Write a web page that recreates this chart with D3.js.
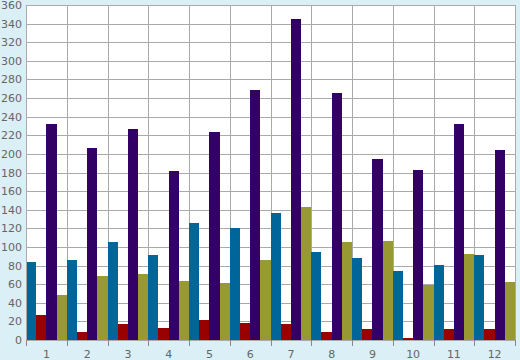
<!DOCTYPE html>
<html><head><meta charset="utf-8">
<script src="https://cdn.jsdelivr.net/npm/d3@7"></script>
<style>html,body{margin:0;padding:0;background:#daeff6;}svg{display:block;}</style>
</head><body>
<svg id="c" width="520" height="360"></svg>
<script>
const categories = ["1","2","3","4","5","6","7","8","9","10","11","12"];
const seriesNames = ["blue","red","purple","olive"];
const blueValues   = [84, 86, 105, 91, 126, 120, 137, 95, 88, 74, 81, 91];
const redValues    = [27, 9, 17, 13, 21, 18, 17, 9, 12, 2, 12, 12];
const purpleValues = [232, 206, 227, 182, 223, 269, 345, 265, 195, 183, 232, 204];
const oliveValues  = [48, 69, 71, 63, 61, 86, 143, 105, 106, 59, 92, 62];
const yTicks = [0,20,40,60,80,100,120,140,160,180,200,220,240,260,280,300,320,340,360];
const colors = ["#006699","#990000","#330066","#999933"];

const series = [blueValues, redValues, purpleValues, oliveValues];
const svg = d3.select("#c");
const L = 26, R = 515, T = 5, B = 340;
svg.append("rect").attr("width",520).attr("height",360).attr("fill","#daeff6");
svg.append("rect").attr("x",L).attr("y",T).attr("width",R-L).attr("height",B-T).attr("fill","#fff");

const x = d3.scaleBand().domain(categories).range([L,R]).padding(0);
const xs = d3.scaleBand().domain(seriesNames).range([0,x.bandwidth()]).padding(0);
const y = d3.scaleLinear().domain([0,360]).range([B,T]);

const grid = svg.append("g").attr("stroke","#aaaaaa").attr("stroke-width",1).attr("shape-rendering","crispEdges");
grid.selectAll("line.h").data(yTicks).join("line").attr("class","h")
  .attr("x1",L).attr("x2",R).attr("y1",d=>Math.round(y(d))+0.5).attr("y2",d=>Math.round(y(d))+0.5);
const bounds = categories.map(c=>x(c)).concat([R]);
grid.selectAll("line.v").data(bounds).join("line").attr("class","v")
  .attr("y1",T).attr("y2",B).attr("x1",d=>Math.round(d)+0.5).attr("x2",d=>Math.round(d)+0.5);

series.forEach((vals,si)=>{
  svg.append("g").attr("shape-rendering","crispEdges").selectAll("rect").data(vals).join("rect")
    .attr("x",(d,i)=>Math.round(x(categories[i])+xs(seriesNames[si])))
    .attr("width",(d,i)=>Math.round(x(categories[i])+xs(seriesNames[si])+xs.bandwidth())-Math.round(x(categories[i])+xs(seriesNames[si])))
    .attr("y",d=>Math.round(y(d)))
    .attr("height",d=>B-Math.round(y(d)))
    .attr("fill",colors[si]);
});

// y axis
const yAxis = d3.axisLeft(y).tickValues(yTicks).tickSize(0).tickPadding(4);
const ya = svg.append("g").attr("transform",`translate(${L},0)`).call(yAxis);
ya.select(".domain").attr("stroke","#aaaaaa");
ya.selectAll("text").attr("fill","#666").attr("font-family","DejaVu Sans").attr("font-size",11);

// x axis
const xa = svg.append("g").attr("transform",`translate(0,${B})`);
xa.append("line").attr("x1",L).attr("x2",R).attr("y1",0.5).attr("y2",0.5).attr("stroke","#aaaaaa");
xa.selectAll("line.t").data(bounds).join("line").attr("class","t")
  .attr("x1",d=>Math.round(d)+0.5).attr("x2",d=>Math.round(d)+0.5).attr("y1",0).attr("y2",6)
  .attr("stroke","#888").attr("shape-rendering","crispEdges");
xa.selectAll("text").data(categories).join("text")
  .attr("x",d=>x(d)+x.bandwidth()/2).attr("y",18)
  .attr("text-anchor","middle").attr("fill","#666").attr("font-family","DejaVu Sans").attr("font-size",11)
  .text(d=>d);
</script>
</body></html>
